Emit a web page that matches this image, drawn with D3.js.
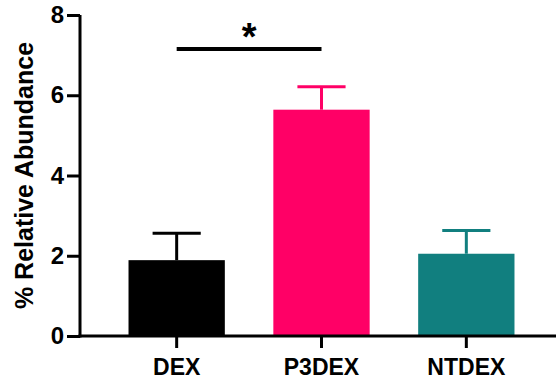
<!DOCTYPE html>
<html><head><meta charset="utf-8">
<script src="https://cdn.jsdelivr.net/npm/d3@7"></script>
<style>body{margin:0;background:#fff}svg{display:block}</style>
</head><body>
<script>
const categories = ["DEX", "P3DEX", "NTDEX"];
const means = [1.89, 5.64, 2.05];
const errors = [0.67, 0.57, 0.58];
const colors = ["#000000", "#ff0066", "#117f7f"];
const yTicks = [0, 2, 4, 6, 8];
const sigLabel = "*";

const W = 556, H = 384;
const svg = d3.select("body").append("svg").attr("width", W).attr("height", H);
const font = "'Liberation Sans', Arial, sans-serif";

const y = d3.scaleLinear().domain([0, 8]).range([336, 15]);
const x = d3.scaleBand().domain(categories).range([80, 563]).paddingInner(0.335).paddingOuter(0.335);

// bars
categories.forEach((c, i) => {
  const x0 = x(c), bw = x.bandwidth(), cx = x0 + bw / 2;
  svg.append("rect").attr("x", x0).attr("y", y(means[i])).attr("width", bw)
    .attr("height", y(0) - y(means[i])).attr("fill", colors[i]);
  svg.append("line").attr("x1", cx).attr("x2", cx).attr("y1", y(means[i])).attr("y2", y(means[i] + errors[i]))
    .attr("stroke", colors[i]).attr("stroke-width", 3);
  svg.append("line").attr("x1", cx - bw / 4).attr("x2", cx + bw / 4)
    .attr("y1", y(means[i] + errors[i])).attr("y2", y(means[i] + errors[i]))
    .attr("stroke", colors[i]).attr("stroke-width", 3);
});

// y axis
const ya = svg.append("g").attr("transform", "translate(80,0)")
  .call(d3.axisLeft(y).tickValues(yTicks).tickSize(13).tickPadding(3).tickFormat(d3.format("d")));
ya.select(".domain").attr("stroke", "#000").attr("stroke-width", 3).attr("d", `M0,${y(8)}V${y(0)+1.5}`);
ya.selectAll(".tick line").attr("stroke", "#000").attr("stroke-width", 3);
ya.selectAll(".tick text").attr("font-family", font).attr("font-size", 24).attr("font-weight", "bold").attr("fill", "#000");

// x axis
const xa = svg.append("g").attr("transform", `translate(0,${y(0)})`)
  .call(d3.axisBottom(x).tickSize(12).tickPadding(11));
xa.select(".domain").attr("stroke", "#000").attr("stroke-width", 3).attr("d", `M78.5,0H556`);
xa.selectAll(".tick line").attr("stroke", "#000").attr("stroke-width", 3);
xa.selectAll(".tick text").attr("font-family", font).attr("font-size", 23).attr("font-weight", "bold").attr("fill", "#000");

// y label
svg.append("text").attr("transform", `translate(33,${(y(0)+y(8))/2}) rotate(-90)`)
  .attr("text-anchor", "middle").attr("font-family", font).attr("font-size", 25).attr("font-weight", "bold")
  .text("% Relative Abundance");

// significance
const sx1 = x("DEX") + x.bandwidth() / 2, sx2 = x("P3DEX") + x.bandwidth() / 2;
svg.append("line").attr("x1", sx1).attr("x2", sx2).attr("y1", 49).attr("y2", 49)
  .attr("stroke", "#000").attr("stroke-width", 4);
svg.append("text").attr("x", (sx1 + sx2) / 2).attr("y", 50).attr("text-anchor", "middle")
  .attr("font-family", font).attr("font-size", 38).attr("font-weight", "bold").text(sigLabel);
</script>
</body></html>
